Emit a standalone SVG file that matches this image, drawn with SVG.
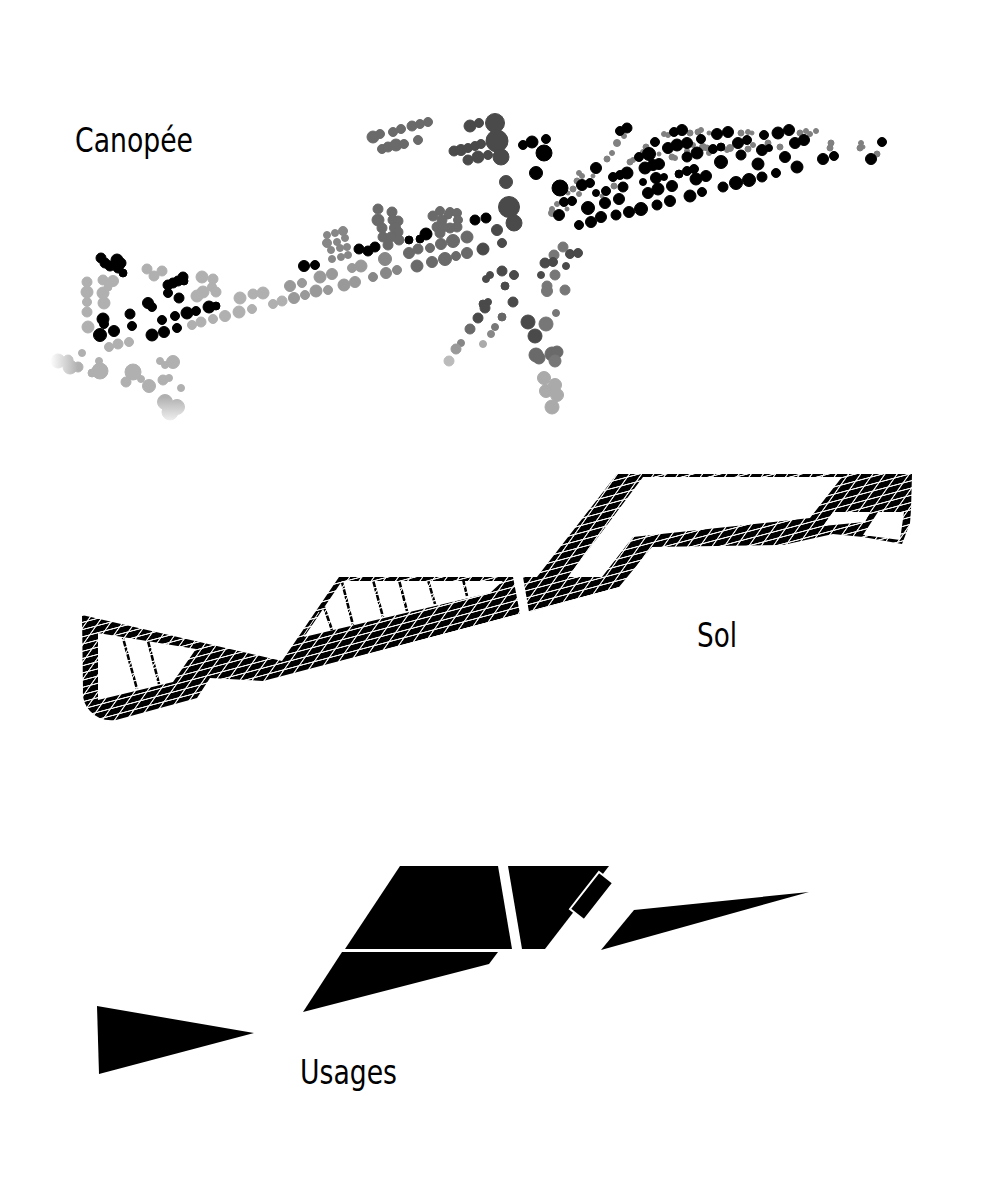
<svg xmlns="http://www.w3.org/2000/svg" width="996" height="1200" viewBox="0 0 996 1200">
<style>
.t{font-family:"DejaVu Sans Condensed","DejaVu Sans",sans-serif;font-size:33px;fill:#000}
.k{fill:#000;stroke:#000}.s{fill:#808080;stroke:#808080}.l{fill:#b0b0b0;stroke:#b0b0b0}.a{fill:#aaa;stroke:#aaa}.m{fill:#999;stroke:#999}.n{fill:#878787;stroke:#878787}.d{fill:#6a6a6a;stroke:#6a6a6a}.q{fill:#4a4a4a;stroke:#4a4a4a}.e{fill:#777;stroke:#777}.b{fill:#bbb;stroke:#bbb}.g6{fill:#666;stroke:#666}
.fl{fill:url(#fadeL);stroke:url(#fadeL)}.fb{fill:url(#fadeB);stroke:url(#fadeB)}
.k,.s,.l,.a,.m,.n,.d,.q,.e,.b,.g6,.fl,.fb{stroke-width:1}
.h{fill:url(#hatch);fill-rule:evenodd}
.st{fill:none;stroke:url(#hatch);stroke-width:2.6}
.u{fill:#000}
</style>
<defs>
<pattern id="hatch" patternUnits="userSpaceOnUse" width="10" height="10" patternTransform="matrix(1.5 -0.4 0.63 -0.89 3 1)">
<rect width="10" height="10" fill="#000"/>
<path d="M0 0H10M0 10H10" stroke="#f2f2f2" stroke-width="1.7" fill="none"/>
<path d="M0 0V10M10 0V10" stroke="#f2f2f2" stroke-width="1.2" fill="none"/>
</pattern>
<linearGradient id="fadeL" gradientUnits="userSpaceOnUse" x1="50" y1="0" x2="78" y2="0"><stop offset="0" stop-color="#fff"/><stop offset="1" stop-color="#b0b0b0"/></linearGradient>
<linearGradient id="fadeB" gradientUnits="userSpaceOnUse" x1="0" y1="397" x2="0" y2="421"><stop offset="0" stop-color="#b0b0b0"/><stop offset="1" stop-color="#f0f0f0"/></linearGradient>
</defs>
<rect width="996" height="1200" fill="#fff"/>

<g id="canopee">
<g class="fl">
<circle cx="58" cy="361" r="7"/><circle cx="68" cy="360" r="5"/><circle cx="70" cy="367" r="7"/><circle cx="78" cy="367" r="5"/>
</g>
<g class="fb">
<circle cx="165" cy="402" r="7.5"/><circle cx="177" cy="407" r="7.5"/><circle cx="170" cy="412" r="8"/>
</g>
<g class="l">
<circle cx="82" cy="353" r="3.5"/><circle cx="99" cy="361" r="3.5"/><circle cx="100" cy="371" r="8"/><circle cx="92" cy="373" r="4"/><circle cx="133" cy="372" r="8"/><circle cx="126" cy="382" r="5"/><circle cx="141" cy="379" r="3.5"/><circle cx="149" cy="386" r="6.5"/><circle cx="163" cy="380" r="5"/><circle cx="169" cy="378" r="3.5"/><circle cx="181" cy="388" r="3.5"/><circle cx="160" cy="361" r="3.5"/><circle cx="165" cy="365" r="3.5"/><circle cx="173" cy="362" r="6.5"/>
<circle cx="147" cy="269" r="5"/><circle cx="154" cy="276" r="5"/><circle cx="162" cy="271" r="5"/><circle cx="202" cy="277" r="6"/><circle cx="213" cy="279" r="5"/><circle cx="203" cy="292" r="6"/><circle cx="197" cy="296" r="6"/><circle cx="212" cy="287" r="4.5"/><circle cx="216" cy="292" r="5"/>
<circle cx="87" cy="282" r="5"/><circle cx="87" cy="292" r="6"/><circle cx="87" cy="302" r="4.5"/><circle cx="87" cy="312" r="5"/><circle cx="88" cy="327" r="6"/>
<circle cx="103" cy="280" r="5"/><circle cx="113" cy="281" r="5.5"/><circle cx="103" cy="293" r="6"/><circle cx="104" cy="303" r="6"/><circle cx="108" cy="287" r="4"/>
<circle cx="109" cy="347" r="4.5"/><circle cx="118" cy="344" r="5"/><circle cx="129" cy="342" r="4.5"/>
<circle cx="192" cy="325" r="4.5"/><circle cx="201" cy="322" r="5"/><circle cx="213" cy="319" r="4.5"/><circle cx="225" cy="316" r="5.5"/><circle cx="239" cy="312" r="6"/><circle cx="252" cy="309" r="4.5"/><circle cx="240" cy="298" r="6"/><circle cx="253" cy="294" r="5"/><circle cx="263" cy="293" r="6"/>
<circle cx="273" cy="304" r="4.5"/><circle cx="282" cy="301" r="5"/>
</g>
<g class="m">
<circle cx="294" cy="298" r="5.5"/><circle cx="305" cy="295" r="4.5"/><circle cx="290" cy="286" r="5.5"/><circle cx="302" cy="283" r="4.5"/><circle cx="316" cy="291" r="6"/><circle cx="328" cy="290" r="4.5"/><circle cx="320" cy="277" r="6"/><circle cx="332" cy="274" r="5.5"/><circle cx="344" cy="285" r="6"/><circle cx="355" cy="282" r="5.5"/><circle cx="352" cy="268" r="4.5"/><circle cx="361" cy="266" r="6"/>
</g>
<g class="n">
<circle cx="327" cy="235" r="3.5"/><circle cx="335" cy="233" r="3.5"/><circle cx="343" cy="231" r="4.5"/><circle cx="327" cy="243" r="4.5"/><circle cx="337" cy="242" r="3.5"/><circle cx="345" cy="238" r="3.5"/><circle cx="331" cy="250" r="3.5"/><circle cx="340" cy="248" r="3.5"/><circle cx="347" cy="247" r="3.5"/><circle cx="348" cy="255" r="3.5"/><circle cx="341" cy="257" r="3.5"/><circle cx="332" cy="259" r="3.5"/>
<circle cx="373" cy="277" r="4.5"/><circle cx="386" cy="273" r="5.5"/><circle cx="397" cy="270" r="4.5"/><circle cx="385" cy="259" r="6.5"/>
</g>
<g class="d">
<circle cx="373" cy="137" r="6"/><circle cx="380" cy="134" r="4.5"/><circle cx="393" cy="132" r="4.5"/><circle cx="401" cy="129" r="4.5"/><circle cx="412" cy="126" r="5"/><circle cx="420" cy="124" r="4.5"/><circle cx="428" cy="122" r="4.5"/><circle cx="418" cy="140" r="4.5"/><circle cx="382" cy="149" r="4.5"/><circle cx="388" cy="147" r="5"/><circle cx="396" cy="145" r="6"/><circle cx="404" cy="144" r="4.5"/>
<circle cx="378" cy="209" r="5"/><circle cx="378" cy="220" r="6"/><circle cx="382" cy="228" r="5"/><circle cx="383" cy="237" r="5"/><circle cx="388" cy="245" r="5"/><circle cx="392" cy="212" r="5"/><circle cx="393" cy="220" r="5"/><circle cx="398" cy="221" r="5"/><circle cx="395" cy="228" r="5.5"/><circle cx="398" cy="232" r="5"/><circle cx="399" cy="240" r="5"/><circle cx="391" cy="237" r="5"/>
<circle cx="418" cy="249" r="5"/><circle cx="409" cy="253" r="5.5"/><circle cx="430" cy="248" r="4.5"/><circle cx="417" cy="266" r="6"/><circle cx="432" cy="262" r="5.5"/><circle cx="445" cy="259" r="6.5"/><circle cx="456" cy="256" r="4.5"/><circle cx="467" cy="253" r="5.5"/><circle cx="453" cy="241" r="6.5"/><circle cx="467" cy="237" r="6"/><circle cx="441" cy="244" r="5.5"/>
<circle cx="433" cy="216" r="5"/><circle cx="440" cy="211" r="4.5"/><circle cx="450" cy="212" r="4.5"/><circle cx="457" cy="213" r="4.5"/><circle cx="458" cy="220" r="4.5"/><circle cx="457" cy="227" r="5"/><circle cx="448" cy="215" r="4"/><circle cx="442" cy="220" r="5"/><circle cx="437" cy="227" r="5"/><circle cx="440" cy="233" r="5"/><circle cx="450" cy="228" r="5"/><circle cx="443" cy="227" r="5"/>
<circle cx="470" cy="329" r="5"/>
<circle cx="536" cy="355" r="7"/><circle cx="539" cy="358" r="6"/><circle cx="552" cy="354" r="7"/><circle cx="557" cy="352" r="6"/>
</g>
<g class="e">
<circle cx="563" cy="247" r="5"/><circle cx="554" cy="255" r="5"/><circle cx="555" cy="275" r="5"/><circle cx="547" cy="286" r="5"/><circle cx="547" cy="291" r="5.5"/><circle cx="565" cy="290" r="5"/><circle cx="555" cy="361" r="6"/><circle cx="546" cy="324" r="7"/><circle cx="495" cy="327" r="3.5"/><circle cx="556" cy="313" r="3.5"/>
</g>
<g class="q">
<circle cx="470" cy="126" r="6"/><circle cx="479" cy="123" r="4.5"/><circle cx="495" cy="123" r="9.5"/><circle cx="497" cy="141" r="11"/><circle cx="501" cy="157" r="8"/><circle cx="454" cy="151" r="5"/><circle cx="461" cy="150" r="5.5"/><circle cx="468" cy="148" r="4.5"/><circle cx="475" cy="146" r="4.5"/><circle cx="481" cy="144" r="4.5"/><circle cx="468" cy="160" r="5"/><circle cx="478" cy="157" r="6"/><circle cx="488" cy="155" r="4.5"/>
<circle cx="506" cy="182" r="6.5"/><circle cx="509" cy="207" r="10.5"/><circle cx="514" cy="223" r="8"/><circle cx="497" cy="230" r="5.5"/><circle cx="502" cy="243" r="4.5"/><circle cx="483" cy="249" r="6"/>
<circle cx="486" cy="279" r="3.5"/><circle cx="490" cy="275" r="3.5"/><circle cx="502" cy="271" r="5"/><circle cx="514" cy="275" r="4.5"/><circle cx="505" cy="286" r="4"/><circle cx="513" cy="302" r="5"/><circle cx="488" cy="302" r="3.5"/><circle cx="483" cy="304" r="4"/><circle cx="485" cy="308" r="5"/><circle cx="478" cy="318" r="5"/>
<circle cx="570" cy="254" r="4.5"/><circle cx="578" cy="253" r="4.5"/><circle cx="545" cy="263" r="5"/><circle cx="553" cy="262" r="4.5"/><circle cx="566" cy="266" r="3.5"/><circle cx="541" cy="275" r="3.5"/>
<circle cx="528" cy="322" r="7"/><circle cx="535" cy="336" r="7"/>
</g>
<circle class="g6" cx="502" cy="317" r="4"/><circle class="n" cx="491" cy="334" r="3.5"/><circle class="a" cx="483" cy="344" r="3.5"/><circle class="n" cx="461" cy="343" r="3.5"/><circle class="m" cx="456" cy="349" r="5"/><circle class="b" cx="449" cy="361" r="5"/>
<g class="a">
<circle cx="544" cy="378" r="6.5"/><circle cx="555" cy="385" r="6.5"/><circle cx="546" cy="391" r="6.5"/><circle cx="557" cy="395" r="6.5"/><circle cx="552" cy="407" r="7"/>
</g>
<g class="s">
<circle cx="552" cy="213" r="3.5"/><circle cx="552" cy="209" r="2.5"/><circle cx="557" cy="204" r="2.5"/><circle cx="567" cy="209" r="2"/><circle cx="568" cy="193" r="2"/><circle cx="573" cy="189" r="3"/><circle cx="577" cy="181" r="3"/><circle cx="579" cy="173" r="2.5"/><circle cx="582" cy="176" r="2.5"/><circle cx="593" cy="176" r="2"/><circle cx="579" cy="194" r="2.5"/><circle cx="602" cy="196" r="2"/><circle cx="614" cy="186" r="3"/>
<circle cx="607" cy="159" r="3"/><circle cx="612" cy="153" r="2.5"/><circle cx="617" cy="143" r="3.5"/><circle cx="624" cy="136" r="2.5"/><circle cx="630" cy="162" r="3"/><circle cx="633" cy="160" r="2.5"/><circle cx="646" cy="147" r="3"/><circle cx="643" cy="152" r="2.5"/><circle cx="659" cy="154" r="2"/>
<circle cx="664" cy="134" r="2.5"/><circle cx="668" cy="135" r="2.5"/><circle cx="690" cy="133" r="3"/><circle cx="698" cy="132" r="3"/><circle cx="701" cy="130" r="2.5"/><circle cx="709" cy="133" r="2"/>
<circle cx="672" cy="157" r="3"/><circle cx="675" cy="158" r="2.5"/><circle cx="687" cy="151" r="2.5"/><circle cx="693" cy="145" r="2.5"/><circle cx="703" cy="147" r="3.5"/><circle cx="707" cy="148" r="3"/><circle cx="709" cy="153" r="2.5"/><circle cx="730" cy="148" r="3.5"/><circle cx="727" cy="150" r="2.5"/><circle cx="748" cy="149" r="3"/><circle cx="753" cy="145" r="2.5"/><circle cx="768" cy="143" r="3"/><circle cx="780" cy="147" r="3"/><circle cx="741" cy="133" r="3"/><circle cx="748" cy="132" r="2.5"/><circle cx="752" cy="133" r="2"/><circle cx="800" cy="133" r="3"/><circle cx="806" cy="131" r="2.5"/><circle cx="810" cy="134" r="2.5"/><circle cx="816" cy="131" r="2.5"/>
<circle cx="831" cy="143" r="3"/><circle cx="830" cy="148" r="3"/><circle cx="861" cy="143" r="2.5"/><circle cx="860" cy="148" r="3"/><circle cx="863" cy="147" r="2"/><circle cx="877" cy="154" r="3"/>
</g>
<g class="k">
<circle cx="101" cy="258" r="5"/><circle cx="105" cy="263" r="5"/><circle cx="110" cy="266" r="5"/><circle cx="117" cy="260" r="6"/><circle cx="121" cy="263" r="5"/><circle cx="118" cy="268" r="5"/><circle cx="123" cy="273" r="4"/><circle cx="119" cy="264" r="6"/>
<circle cx="168" cy="285" r="5"/><circle cx="173" cy="283" r="5"/><circle cx="178" cy="281" r="5"/><circle cx="183" cy="277" r="5"/><circle cx="184" cy="281" r="4"/><circle cx="168" cy="293" r="4.5"/><circle cx="179" cy="298" r="5"/>
<circle cx="148" cy="303" r="5.5"/><circle cx="152" cy="307" r="4.5"/><circle cx="130" cy="314" r="5"/><circle cx="132" cy="326" r="4.5"/><circle cx="103" cy="319" r="6"/><circle cx="104" cy="324" r="4.5"/><circle cx="100" cy="335" r="6.5"/><circle cx="114" cy="331" r="5.5"/><circle cx="152" cy="335" r="6"/><circle cx="164" cy="332" r="5.5"/><circle cx="177" cy="328" r="4.5"/><circle cx="162" cy="320" r="4.5"/><circle cx="175" cy="316" r="4.5"/><circle cx="187" cy="313" r="6"/><circle cx="196" cy="311" r="4.5"/><circle cx="209" cy="307" r="6"/><circle cx="216" cy="306" r="4"/><circle cx="304" cy="266" r="5.5"/><circle cx="315" cy="265" r="4.5"/>
<circle cx="523" cy="145" r="4.5"/><circle cx="532" cy="142" r="6"/><circle cx="546" cy="139" r="4.5"/><circle cx="544" cy="153" r="8"/><circle cx="536" cy="173" r="6.5"/>
<circle cx="475" cy="220" r="5"/><circle cx="486" cy="218" r="5"/><circle cx="426" cy="234" r="6"/><circle cx="420" cy="239" r="4"/><circle cx="409" cy="240" r="4"/><circle cx="359" cy="249" r="5"/><circle cx="368" cy="251" r="5"/><circle cx="375" cy="247" r="5"/>
<circle cx="620" cy="131" r="4.5"/><circle cx="627" cy="128" r="5"/><circle cx="596" cy="168" r="5.5"/><circle cx="560" cy="188" r="8"/><circle cx="582" cy="185" r="5.5"/><circle cx="590" cy="183" r="4.5"/><circle cx="564" cy="202" r="4.5"/><circle cx="572" cy="201" r="4.5"/><circle cx="559" cy="215" r="5.5"/><circle cx="588" cy="208" r="6.5"/><circle cx="596" cy="193" r="3.5"/><circle cx="606" cy="191" r="4.5"/><circle cx="605" cy="203" r="5.5"/><circle cx="619" cy="199" r="5.5"/><circle cx="623" cy="187" r="5"/><circle cx="579" cy="225" r="4.5"/><circle cx="591" cy="222" r="5.5"/><circle cx="601" cy="217" r="5.5"/><circle cx="616" cy="215" r="5"/><circle cx="629" cy="212" r="5.5"/><circle cx="641" cy="209" r="6.5"/><circle cx="657" cy="205" r="5"/><circle cx="670" cy="201" r="5.5"/><circle cx="690" cy="196" r="6"/><circle cx="702" cy="192" r="4.5"/><circle cx="723" cy="187" r="5"/><circle cx="736" cy="183" r="6.5"/><circle cx="749" cy="180" r="6.5"/><circle cx="762" cy="177" r="5"/><circle cx="776" cy="173" r="4.5"/><circle cx="797" cy="167" r="6"/><circle cx="823" cy="159" r="5.5"/><circle cx="834" cy="156" r="4.5"/><circle cx="871" cy="159" r="5.5"/><circle cx="882" cy="142" r="4.5"/>
<circle cx="613" cy="177" r="4.5"/><circle cx="620" cy="175" r="4.5"/><circle cx="627" cy="173" r="6"/><circle cx="639" cy="157" r="4.5"/><circle cx="649" cy="154" r="6.5"/><circle cx="655" cy="142" r="4.5"/><circle cx="645" cy="168" r="6"/><circle cx="653" cy="165" r="5.5"/><circle cx="659" cy="164" r="5.5"/><circle cx="643" cy="182" r="3.5"/><circle cx="656" cy="178" r="5.5"/><circle cx="664" cy="177" r="3.5"/><circle cx="672" cy="186" r="5.5"/><circle cx="658" cy="189" r="6"/><circle cx="648" cy="193" r="5.5"/><circle cx="679" cy="174" r="4"/><circle cx="687" cy="171" r="4.5"/><circle cx="694" cy="169" r="4.5"/><circle cx="696" cy="179" r="6"/><circle cx="706" cy="176" r="5.5"/>
<circle cx="668" cy="148" r="5.5"/><circle cx="677" cy="145" r="6"/><circle cx="687" cy="143" r="5.5"/><circle cx="674" cy="132" r="4.5"/><circle cx="682" cy="130" r="5.5"/><circle cx="701" cy="139" r="4.5"/><circle cx="717" cy="134" r="5.5"/><circle cx="728" cy="132" r="5.5"/><circle cx="687" cy="157" r="5"/><circle cx="697" cy="153" r="6"/><circle cx="713" cy="149" r="4.5"/><circle cx="721" cy="147" r="4"/><circle cx="721" cy="162" r="6.5"/><circle cx="741" cy="155" r="5"/><circle cx="738" cy="143" r="5.5"/><circle cx="747" cy="140" r="4.5"/><circle cx="764" cy="135" r="4.5"/><circle cx="758" cy="164" r="6"/><circle cx="762" cy="150" r="5.5"/><circle cx="769" cy="148" r="3.5"/><circle cx="785" cy="157" r="5.5"/><circle cx="795" cy="143" r="5.5"/><circle cx="804" cy="140" r="5.5"/><circle cx="778" cy="133" r="6"/><circle cx="789" cy="130" r="5.5"/>
</g>
</g>

<g id="sol">
<path class="h" d="M82 615L282 661L339 577H513L520 614L263 681L210 678L197 698L116 720Q100 722 90 711Q82 702 83 690Z M98 633L196 649L173 682L98 700Z M304 637L342 581H503L490 593Z"/>
<path class="h" d="M523 577H537L617 474H912L911 510L910 523L902 544L863 537L833 534L783 545L652 547L619 587L529 612Z M643 477H842L810 518L633 537L602 577H568Z M833 512H870L865 522L823 526Z M878 512H904L900 540L863 535Z"/>
<g class="st">
<path d="M123 638L137 689M148 641L159 684M324 607L332 630M342 582L353 625M373 580L383 617M399 580L407 611M428 580L435 604M463 579L467 596"/>
</g>
<path d="M303 636L319 612" stroke="#fff" stroke-width="1" fill="none"/>
</g>

<g id="usages">
<polygon class="u" points="400,866 498,866 512,949 345,949"/>
<polygon class="u" points="508,866 609,866 545,949 522,949"/>
<polygon class="u" points="599,872 613,883 584,920 570,909" stroke="#fff" stroke-width="2"/>
<polygon class="u" points="342,952 498,952 489,964 303,1012"/>
<polygon class="u" points="97,1006 254,1033 99,1074"/>
<polygon class="u" points="634,910 809,892 601,950"/>
</g>

<g id="labels">
<text class="t" x="75" y="152" textLength="118" lengthAdjust="spacingAndGlyphs">Canopée</text>
<text class="t" x="697" y="647" textLength="40" lengthAdjust="spacingAndGlyphs">Sol</text>
<text class="t" x="300" y="1084" textLength="97" lengthAdjust="spacingAndGlyphs">Usages</text>
</g>
</svg>
